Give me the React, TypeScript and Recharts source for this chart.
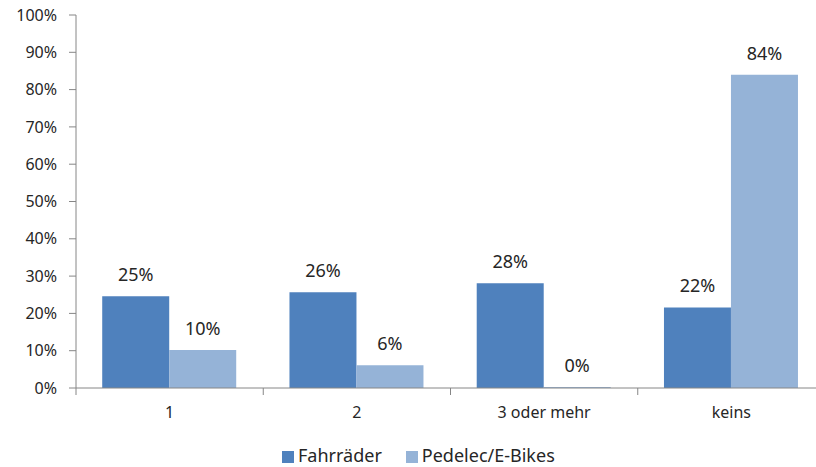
import { BarChart, Bar, XAxis, YAxis, Legend, LabelList } from 'recharts';

const categories = ['1', '2', '3 oder mehr', 'keins'];
const fahrraeder = [0.246, 0.257, 0.281, 0.216];
const pedelec = [0.102, 0.061, 0.003, 0.84];
const yTicks = [0, 0.1, 0.2, 0.3, 0.4, 0.5, 0.6, 0.7, 0.8, 0.9, 1];

const data = categories.map((c, i) => ({
  name: c,
  fahrraeder: fahrraeder[i],
  pedelec: pedelec[i],
}));

const FONT = '"Noto Sans", sans-serif';
const AXIS = '#868686';
const TEXT = '#262626';
const CHART_W = 830;
const MARGIN = { top: 15, right: 5, left: 0, bottom: 10 };
const Y_W = 76;
const BAND = (CHART_W - MARGIN.left - MARGIN.right - Y_W) / categories.length;

const pct = (v: number) => `${Math.round(v * 100)}%`;

// category label in the middle, tick marks on the category borders
function CategoryTick(props: any) {
  const { x, y, payload, index } = props;
  const top = y - 8;
  return (
    <g>
      <line x1={x - BAND / 2} x2={x - BAND / 2} y1={top} y2={top + 7} stroke={AXIS} />
      {index === categories.length - 1 && (
        <line x1={x + BAND / 2} x2={x + BAND / 2} y1={top} y2={top + 7} stroke={AXIS} />
      )}
      <text x={x} y={top + 26} textAnchor="middle" dominantBaseline="middle" fill={TEXT} fontSize={16} fontFamily={FONT}>
        {payload.value}
      </text>
    </g>
  );
}

export default function App() {
  return (
    <div style={{ position: 'fixed', left: 0, top: 0, width: 816, height: 467, overflow: 'hidden', background: '#fff' }}>
      <BarChart width={CHART_W} height={467} data={data} margin={MARGIN} barCategoryGap="14%" barGap={0}>
        <XAxis
          dataKey="name"
          tickLine={false}
          axisLine={{ stroke: AXIS }}
          tick={<CategoryTick />}
          height={45}
          interval={0}
        />
        <YAxis
          width={Y_W}
          domain={[0, 1]}
          ticks={yTicks}
          tickFormatter={pct}
          tickSize={7}
          tickMargin={12}
          axisLine={{ stroke: AXIS }}
          tickLine={{ stroke: AXIS }}
          tick={{ fill: TEXT, fontSize: 16, fontFamily: FONT }}
          interval={0}
        />
        <Legend
          verticalAlign="bottom"
          align="left"
          height={24}
          iconType="square"
          iconSize={12}
          wrapperStyle={{ left: 282, top: 443, bottom: 'auto', fontFamily: FONT, fontSize: 18 }}
          formatter={(v: string) => <span style={{ color: TEXT, marginRight: 14 }}>{v}</span>}
        />
        <Bar dataKey="fahrraeder" name="Fahrräder" fill="#4F81BD" isAnimationActive={false}>
          <LabelList dataKey="fahrraeder" position="top" offset={15} formatter={(v: any) => pct(Number(v))} fill={TEXT} fontSize={18} fontFamily={FONT} />
        </Bar>
        <Bar dataKey="pedelec" name="Pedelec/E-Bikes" fill="#95B3D7" isAnimationActive={false}>
          <LabelList dataKey="pedelec" position="top" offset={15} formatter={(v: any) => pct(Number(v))} fill={TEXT} fontSize={18} fontFamily={FONT} />
        </Bar>
      </BarChart>
    </div>
  );
}
